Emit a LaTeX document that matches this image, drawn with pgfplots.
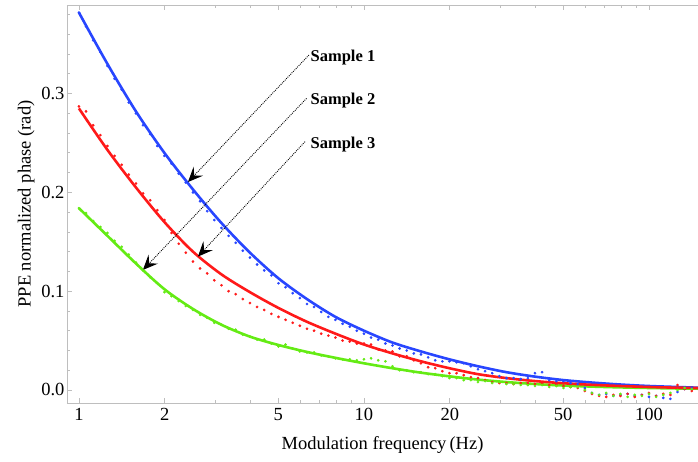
\documentclass[border=0pt]{standalone}
\usepackage{fontspec}
\setmainfont{Liberation Serif}
\usepackage{pgfplots}
\usepackage{pgfplotstable}
\pgfplotsset{compat=1.18}
\usetikzlibrary{arrows.meta}
\definecolor{cblue}{RGB}{40,70,255}
\definecolor{cred}{RGB}{255,25,25}
\definecolor{cgreen}{RGB}{100,235,20}
\definecolor{framec}{RGB}{190,190,190}
\newcommand\lab{\fontsize{18.5}{21}\selectfont}
\newcommand\slab{\fontsize{16.5}{19}\selectfont\bfseries}

\pgfplotstableread{
f b r g
1.000 .382 .287 .184
1.059 .368 .282 .179
1.122 .354 .268 .171
1.189 .342 .258 .165
1.259 .328 .247 .159
1.334 .315 .237 .151
1.413 .304 .228 .145
1.496 .291 .218 .137
1.585 .280 .209 .129
1.679 .268 .199 .121
1.778 .259 .192 .114
1.884 .247 .182 .108
1.995 .237 .172 .099
2.113 .229 .159 .095
2.239 .219 .148 .090
2.371 .210 .139 .085
2.512 .200 .130 .081
2.661 .191 .123 .076
2.818 .181 .118 .073
2.985 .172 .111 .068
3.162 .164 .106 .066
3.350 .156 .100 .062
3.548 .149 .097 .061
3.758 .141 .092 .056
3.981 .134 .088 .054
4.217 .127 .084 .051
4.467 .121 .081 .051
4.732 .116 .077 .047
5.012 .108 .074 .044
5.309 .104 .071 .046
5.623 .098 .068 .042
5.957 .093 .065 .039
6.310 .087 .062 .038
6.683 .084 .060 .038
7.079 .079 .057 .035
7.499 .074 .055 .034
7.943 .071 .053 .032
8.414 .067 .050 .031
8.913 .064 .049 .031
9.441 .060 .047 .030
10.00 .057 .047 .031
10.59 .053 .046 .032
11.22 .051 .041 .030
11.89 .047 .040 .029
12.59 .045 .039 .024
13.34 .042 .034 .020
14.13 .040 .034 .020
14.96 .037 .030 .018
15.85 .036 .027 .018
16.79 .033 .023 .016
17.78 .030 .022 .016
18.84 .029 .019 .014
19.95 .029 .017 .012
21.13 .028 .017 .012
22.39 .027 .015 .010
23.71 .024 .013 .010
25.12 .021 .012 .008
26.61 .019 .010 .009
28.18 .017 .008 .007
29.85 .014 .007 .008
31.62 .012 .007 .006
33.50 .012 .006 .006
35.48 .011 .007 .005
37.58 .012 .007 .005
39.81 .017 .006 .004
42.17 .018 .006 .005
44.67 .010 .005 .003
47.32 .009 .005 .004
50.12 .009 .004 .002
53.09 .007 .003 .003
56.23 .006 .002 .003
59.57 .002 -.001 .000
63.10 -.003 -.004 -.003
66.83 -.005 -.006 -.005
70.79 -.004 -.007 -.003
74.99 -.006 -.005 -.006
79.43 -.005 -.006 -.004
84.14 -.004 -.004 -.007
89.13 -.006 -.007 -.005
94.41 -.005 -.005 -.006
100.0 -.007 -.003 -.004
105.9 -.006 -.006 -.007
112.2 -.008 -.004 -.005
118.9 -.009 -.005 -.003
125.9 -.002 .005 .000
133.4 .001 .001 .002
141.3 .002 -.001 .001
}\dots

\pgfplotstableread{
f b r g
1.000 .382 .285 .184
1.259 .330 .243 .156
1.585 .282 .205 .128
1.995 .240 .170 .102
2.512 .203 .140 .082
3.162 .169 .117 .066
3.981 .139 .099 .054
5.012 .113 .083 .0455
6.310 .092 .069 .0385
7.943 .074 .057 .0325
10.00 .060 .046 .027
12.59 .048 .037 .022
15.85 .039 .029 .0175
19.95 .031 .022 .0138
25.12 .024 .016 .0105
31.62 .018 .012 .008
39.81 .0135 .009 .006
50.12 .010 .0068 .0045
63.10 .0075 .0052 .0034
79.43 .0055 .004 .0026
100.0 .004 .003 .002
125.9 .003 .0023 .0015
158.5 .002 .0018 .0012
}\fits

\begin{document}
\begin{tikzpicture}
\path[use as bounding box] (-67pt,-58pt) rectangle (631pt,403pt);
\begin{axis}[
  at={(0,0)}, anchor=south west,
  scale only axis, width=631pt, height=398pt,
  xmode=log, xmin=0.908, xmax=148.6, ymin=-0.0132, ymax=0.3897,
  axis x line*=box, axis y line*=left,
  axis line style={draw=framec, line width=0.8pt},
  tick style={draw=framec, line width=0.8pt},
  tick align=inside,
  major tick length=5pt, minor tick length=3pt,
  xtick={1,2,5,10,20,50,100}, xticklabels={1,2,5,10,20,50,100},
  minor xtick={3,4,6,7,8,9,30,40,60,70,80,90},
  ytick={0,0.1,0.2,0.3}, yticklabels={0.0,0.1,0.2,0.3},
  minor ytick={0.02,0.04,0.06,0.08,0.12,0.14,0.16,0.18,0.22,0.24,0.26,0.28,0.32,0.34,0.36,0.38},
  ticklabel style={font=\lab, text=black},
  xticklabel style={yshift=-2pt},
  yticklabel style={xshift=1pt},
  xlabel={Modulation frequency\,(Hz)},
  ylabel={PPE normalized phase (rad)},
  label style={font=\lab, text=black},
  xlabel style={yshift=-9pt},
]
\addplot[only marks, mark=*, mark size=1.15pt, color=cblue] table[x=f,y=b]{\dots};
\addplot[only marks, mark=*, mark size=1.15pt, color=cred] table[x=f,y=r]{\dots};
\addplot[only marks, mark=*, mark size=1.15pt, color=cgreen] table[x=f,y=g]{\dots};
\addplot[cblue, line width=2.6pt, smooth, no marks] table[x=f,y=b]{\fits};
\addplot[cgreen, line width=2.6pt, smooth, no marks] table[x=f,y=g]{\fits};
\addplot[cred, line width=2.6pt, smooth, no marks] table[x=f,y=r]{\fits};

\draw[black, line width=0.9pt, dash pattern=on 0.9pt off 1.1pt, -{Stealth[length=15pt,width=13pt,inset=6pt]}] (axis cs:6.41,0.339) -- (axis cs:2.413,0.2105);
\draw[black, line width=0.9pt, dash pattern=on 0.9pt off 1.1pt, -{Stealth[length=15pt,width=13pt,inset=6pt]}] (axis cs:6.29,0.2952) -- (axis cs:1.677,0.1215);
\draw[black, line width=0.9pt, dash pattern=on 0.9pt off 1.1pt, -{Stealth[length=15pt,width=13pt,inset=6pt]}] (axis cs:6.21,0.2513) -- (axis cs:2.615,0.135);
\node[anchor=base west, inner sep=0pt, font=\slab] at (axis cs:6.49,0.3323) {Sample 1};
\node[anchor=base west, inner sep=0pt, font=\slab] at (axis cs:6.49,0.2885) {Sample 2};
\node[anchor=base west, inner sep=0pt, font=\slab] at (axis cs:6.49,0.2446) {Sample 3};
\end{axis}
\end{tikzpicture}
\end{document}
